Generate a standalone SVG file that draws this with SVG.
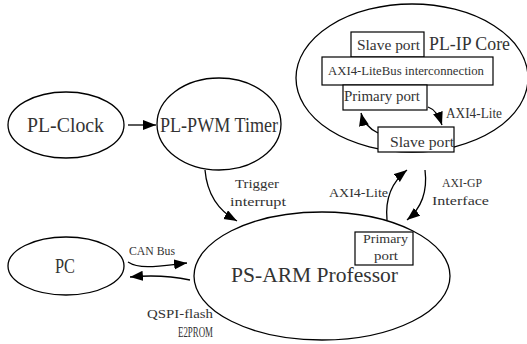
<svg xmlns="http://www.w3.org/2000/svg" width="527" height="344" viewBox="0 0 527 344">
<style>
.n{fill:#fff;stroke:#000;stroke-width:1.3}
.b{fill:#fff;stroke:#000;stroke-width:1.2}
.c{fill:none;stroke:#000;stroke-width:1.3}
text{font-family:"Liberation Serif",serif;fill:#333}
</style>
<defs>
<marker id="ah" markerUnits="userSpaceOnUse" markerWidth="14" markerHeight="12" refX="13" refY="5" orient="auto">
<path d="M0,0 L13,5 L0,10 Z" fill="#000"/>
</marker>
</defs>
<rect width="527" height="344" fill="#fff"/>
<g id="pl-ip-core">
<ellipse class="n" cx="412" cy="78" rx="116" ry="74"/>
<text x="429" y="50" font-size="18" textLength="81" lengthAdjust="spacingAndGlyphs">PL-IP Core</text>
</g>
<g id="slave-port-top">
<rect class="b" x="351" y="32" width="73" height="25"/>
<text x="357" y="50" font-size="14" textLength="63" lengthAdjust="spacingAndGlyphs">Slave port</text>
</g>
<g id="axi-interconnect">
<rect class="b" x="322" y="57" width="171" height="28"/>
<text x="328" y="75" font-size="12" textLength="156" lengthAdjust="spacingAndGlyphs">AXI4-LiteBus interconnection</text>
</g>
<g id="primary-port-ip">
<rect class="b" x="343" y="85" width="84" height="25"/>
<text x="344" y="101" font-size="14" textLength="76" lengthAdjust="spacingAndGlyphs">Primary port</text>
</g>
<g id="slave-port-bottom">
<rect class="b" x="378" y="127" width="76" height="25"/>
<text x="390" y="147" font-size="14" textLength="64" lengthAdjust="spacingAndGlyphs">Slave port</text>
</g>
<g id="pl-clock">
<ellipse class="n" cx="66" cy="125" rx="58" ry="33"/>
<text x="27" y="132" font-size="20" textLength="77" lengthAdjust="spacingAndGlyphs">PL-Clock</text>
</g>
<g id="pl-pwm-timer">
<ellipse class="n" cx="219" cy="124" rx="62" ry="46"/>
<text x="160" y="132" font-size="20" textLength="118" lengthAdjust="spacingAndGlyphs">PL-PWM Timer</text>
</g>
<g id="pc">
<ellipse class="n" cx="66" cy="266" rx="58" ry="29"/>
<text x="55" y="273" font-size="22" textLength="20" lengthAdjust="spacingAndGlyphs">PC</text>
</g>
<g id="ps-arm">
<ellipse class="n" cx="322" cy="276" rx="128" ry="64"/>
<text x="231" y="282" font-size="22" textLength="167" lengthAdjust="spacingAndGlyphs">PS-ARM Professor</text>
</g>
<g id="primary-port-ps">
<rect class="b" x="355" y="232" width="58" height="33"/>
<text x="363" y="243" font-size="13" textLength="45" lengthAdjust="spacingAndGlyphs">Primary</text>
<text x="374" y="260" font-size="13" textLength="24" lengthAdjust="spacingAndGlyphs">port</text>
</g>
<g id="connectors">
<path class="c" d="M128,125 L156,125" marker-end="url(#ah)"/>
<path class="c" d="M205,170 Q208,205 237,221" marker-end="url(#ah)"/>
<path class="c" d="M128,262 C140,270 160,266 187,263" marker-end="url(#ah)"/>
<path class="c" d="M190,280 Q162,274 130,277" marker-end="url(#ah)"/>
<path class="c" d="M387,220 Q384,188 407,170" marker-end="url(#ah)"/>
<path class="c" d="M425,170 Q429,202 407,220" marker-end="url(#ah)"/>
<path class="c" d="M428,107 Q437,110 442,125" marker-end="url(#ah)"/>
<path class="c" d="M378,133 Q364,126 361,113" marker-end="url(#ah)"/>
</g>
<g id="labels">
<text x="446" y="118" font-size="14" textLength="56" lengthAdjust="spacingAndGlyphs">AXI4-Lite</text>
<text x="235" y="188" font-size="13" textLength="44" lengthAdjust="spacingAndGlyphs">Trigger</text>
<text x="230" y="206" font-size="13" textLength="56" lengthAdjust="spacingAndGlyphs">interrupt</text>
<text x="129" y="255" font-size="13" textLength="46" lengthAdjust="spacingAndGlyphs">CAN Bus</text>
<text x="147" y="318" font-size="13" textLength="66" lengthAdjust="spacingAndGlyphs">QSPI-flash</text>
<text x="178" y="337" font-size="14" textLength="35" lengthAdjust="spacingAndGlyphs">E2PROM</text>
<text x="329" y="197" font-size="13" textLength="59" lengthAdjust="spacingAndGlyphs">AXI4-Lite</text>
<text x="442" y="187" font-size="13" textLength="40" lengthAdjust="spacingAndGlyphs">AXI-GP</text>
<text x="432" y="205" font-size="13" textLength="57" lengthAdjust="spacingAndGlyphs">Interface</text>
</g>
</svg>
